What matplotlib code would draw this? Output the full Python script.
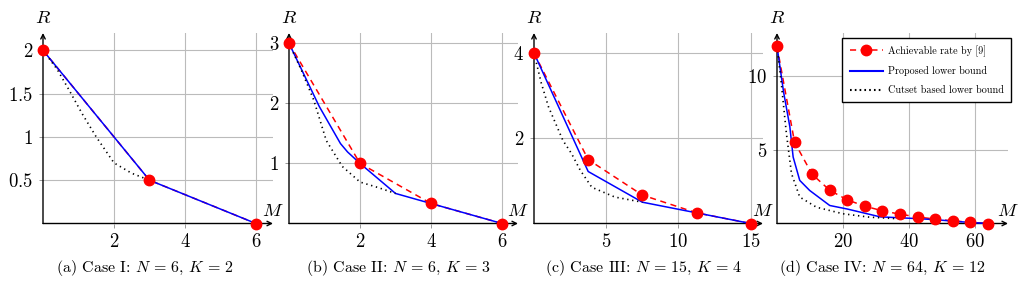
import matplotlib
matplotlib.use('Agg')
import matplotlib.pyplot as plt
from matplotlib.lines import Line2D

plt.rcParams['mathtext.fontset'] = 'cm'
plt.rcParams['font.family'] = ['cmr10', 'DejaVu Serif']
plt.rcParams['axes.formatter.use_mathtext'] = True

# ---- data ----
# (a) Case I: N=6, K=2
a_ach_m = [0, 3, 6]
a_ach_r = [2, 0.5, 0]
a_prop_m = [0, 3, 6]
a_prop_r = [2, 0.5, 0]
a_cut_m = [0, 0.4, 0.75, 1.1, 1.5, 2, 2.5, 3]
a_cut_r = [2, 1.78, 1.53, 1.27, 1.0, 0.7, 0.58, 0.5]

# (b) Case II: N=6, K=3
b_ach_m = [0, 2, 4, 6]
b_ach_r = [3, 1, 0.333, 0]
b_prop_m = [0, 0.85, 1.45, 1.65, 2, 3, 4, 6]
b_prop_r = [3, 1.95, 1.33, 1.19, 1, 0.5, 0.333, 0]
b_cut_m = [0, 0.35, 0.7, 1.05, 1.5, 2, 2.5, 3]
b_cut_r = [3, 2.55, 2.05, 1.38, 0.95, 0.69, 0.6, 0.5]

# (c) Case III: N=15, K=4
c_ach_m = [0, 3.75, 7.5, 11.25, 15]
c_ach_r = [4, 1.5, 0.667, 0.25, 0]
c_prop_m = [0, 3.75, 7.5, 11.25, 15]
c_prop_r = [4, 1.22, 0.5, 0.25, 0]
c_cut_m = [0, 0.5, 1, 2, 2.6, 3.2, 4, 5.6, 7.5]
c_cut_r = [4, 3.3, 2.74, 1.95, 1.64, 1.25, 0.85, 0.62, 0.5]

# (d) Case IV: N=64, K=12
d_ach_m = [0, 5.33, 10.67, 16, 21.33, 26.67, 32, 37.33, 42.67, 48, 53.33, 58.67, 64]
d_ach_r = [12, 5.5, 3.33, 2.25, 1.6, 1.17, 0.86, 0.63, 0.44, 0.3, 0.18, 0.08, 0]
d_prop_m = [0, 2, 3.9, 4.9, 6.9, 9.9, 16, 21.33, 31.3, 42.67, 48, 53.33, 58.67, 64]
d_prop_r = [12, 8.9, 6.55, 4.5, 2.92, 2.24, 1.22, 0.98, 0.45, 0.33, 0.26, 0.16, 0.07, 0]
d_cut_m = [0, 1.3, 2.85, 4.4, 6.9, 12, 20, 28, 36]
d_cut_r = [12, 9.5, 6.1, 3.38, 1.79, 1.1, 0.66, 0.43, 0.33]

panels = [
    dict(ach=(a_ach_m, a_ach_r), prop=(a_prop_m, a_prop_r), cut=(a_cut_m, a_cut_r),
         xt=[2, 4, 6], yt=[0.5, 1, 1.5, 2], ytl=['0.5', '1', '1.5', '2'],
         xlim=6.48, ylim=2.2, px=(43, 273),
         cap=r'(a) Case I: $N\,=\,6$, $K\,=\,2$', capx=145),
    dict(ach=(b_ach_m, b_ach_r), prop=(b_prop_m, b_prop_r), cut=(b_cut_m, b_cut_r),
         xt=[2, 4, 6], yt=[1, 2, 3], ytl=['1', '2', '3'],
         xlim=6.45, ylim=3.17, px=(289, 518),
         cap=r'(b) Case II: $N\,=\,6$, $K\,=\,3$', capx=398),
    dict(ach=(c_ach_m, c_ach_r), prop=(c_prop_m, c_prop_r), cut=(c_cut_m, c_cut_r),
         xt=[5, 10, 15], yt=[2, 4], ytl=['2', '4'],
         xlim=15.85, ylim=4.47, px=(534, 763),
         cap=r'(c) Case III: $N\,=\,15$, $K\,=\,4$', capx=644),
    dict(ach=(d_ach_m, d_ach_r), prop=(d_prop_m, d_prop_r), cut=(d_cut_m, d_cut_r),
         xt=[20, 40, 60], yt=[5, 10], ytl=['5', '10'],
         xlim=70.1, ylim=12.9, px=(777, 1008),
         cap=r'(d) Case IV: $N\,=\,64$, $K\,=\,12$', capx=882),
]

W, H = 1026, 282
fig = plt.figure(figsize=(W / 100, H / 100), dpi=100)

top_px, bot_px = 33, 223.5
for p in panels:
    x0, x1 = p['px']
    ax = fig.add_axes([x0 / W, 1 - bot_px / H, (x1 - x0) / W, (bot_px - top_px) / H])
    ax.set_xlim(0, p['xlim'])
    ax.set_ylim(0, p['ylim'])
    for s in ax.spines.values():
        s.set_visible(False)
    ax.set_xticks(p['xt'])
    ax.set_xticklabels(['$%d$' % v for v in p['xt']])
    ax.set_yticks(p['yt'])
    ax.set_yticklabels(['$%s$' % t for t in p['ytl']])
    ax.tick_params(labelsize=13.5, length=3, width=0.6, color='#888888', pad=4)
    ax.grid(True, color='#bbbbbb', lw=0.8)
    ax.set_axisbelow(True)

    # axis arrows
    ax.annotate('', xy=(1, 0), xytext=(0, 0), xycoords='axes fraction',
                arrowprops=dict(arrowstyle='->', lw=1.0, color='black',
                                shrinkA=0, shrinkB=0, mutation_scale=8))
    ax.annotate('', xy=(0, 1), xytext=(0, 0), xycoords='axes fraction',
                arrowprops=dict(arrowstyle='->', lw=1.0, color='black',
                                shrinkA=0, shrinkB=0, mutation_scale=8))
    ax.text(0, 1.08, '$R$', transform=ax.transAxes, ha='center', va='center', fontsize=13.5)
    ax.text(1, 0.065, '$M$', transform=ax.transAxes, ha='center', va='center', fontsize=13.5)

    m, r = p['ach']
    ax.plot(m, r, color='red', lw=1.1, dashes=(4, 3), zorder=2, clip_on=False)
    m, r = p['prop']
    ax.plot(m, r, color='blue', lw=1.1, zorder=3, clip_on=False)
    m, r = p['cut']
    ax.plot(m, r, color='black', lw=1.2, linestyle=(0, (0.8, 2.2)), zorder=3, clip_on=False)
    m, r = p['ach']
    ax.plot(m, r, 'o', color='red', ms=7.5, zorder=5, clip_on=False)

    fig.text(p['capx'] / W, 1 - 268 / H, p['cap'], ha='center', va='center', fontsize=11.5)

    if p is panels[-1]:
        handles = [
            Line2D([], [], color='red', lw=1.1, dashes=(4, 3), marker='o', ms=7.5),
            Line2D([], [], color='blue', lw=1.5),
            Line2D([], [], color='black', lw=1.5, linestyle=(0, (0.8, 1.5))),
        ]
        labels = ['Achievable rate by [9]', 'Proposed lower bound', 'Cutset based lower bound']
        leg = fig.legend(handles, labels, loc='upper right',
                         bbox_to_anchor=(1011 / W, 1 - 38 / H), fontsize=7.3,
                         frameon=True, fancybox=False, edgecolor='black',
                         framealpha=1, numpoints=1, handlelength=3.3,
                         labelspacing=0.95, borderpad=0.7, handletextpad=0.5,
                         borderaxespad=0)
        leg.get_frame().set_linewidth(1.0)

fig.savefig('out.png', dpi=100)
